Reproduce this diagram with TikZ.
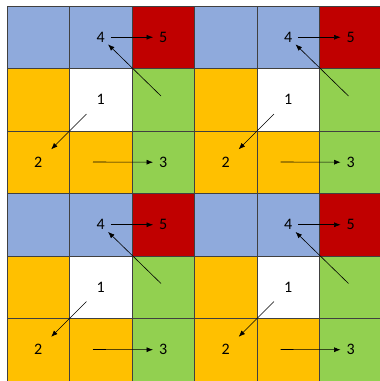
\documentclass[tikz,border=0pt]{standalone}
\usepackage{fontspec}
\setmainfont{Carlito}
\usepackage{tikz}
\usetikzlibrary{arrows.meta, positioning}
\definecolor{cellblue}{RGB}{143,170,220}
\definecolor{cellred}{RGB}{192,0,0}
\definecolor{cellgold}{RGB}{255,192,0}
\definecolor{cellgreen}{RGB}{146,208,80}
\definecolor{gridline}{RGB}{64,64,64}
\tikzset{
  cell/.style={draw=gridline, line width=0.6pt},
  num/.style={circle, minimum size=20pt, inner sep=0pt,
    font=\fontsize{16}{16}\selectfont},
  arrow/.style={-{Latex[length=6.5pt, width=5pt]}, line width=0.6pt, color=black}
}

\begin{document}
\begin{tikzpicture}[x=1pt, y=-1pt]
  \useasboundingbox (0,0) rectangle (380,381);
  \clip (0,0) rectangle (380,381);

  % Four copies of the 3x3 block
  \foreach \bx in {0,1} {
    \foreach \by in {0,1} {
      \begin{scope}[shift={(7+187.5*\bx, 6+187.5*\by)}]
        % Cell colours
        \fill[cellblue] (0,0) rectangle (125,62.5);
        \fill[cellred] (125,0) rectangle (187.5,62.5);
        \fill[cellgold] (0,62.5) rectangle (62.5,187.5);
        \fill[white] (62.5,62.5) rectangle (125,125);
        \fill[cellgreen] (125,62.5) rectangle (187.5,187.5);
        \fill[cellgold] (62.5,125) rectangle (125,187.5);

        % Grid lines
        \foreach \k in {0,...,3} {
          \draw[cell] (62.5*\k,0) -- (62.5*\k,187.5);
          \draw[cell] (0,62.5*\k) -- (187.5,62.5*\k);
        }

        % Numbers
        \node[num] (n4-\bx\by) at (93.75,31.25) {4};
        \node[num] (n5-\bx\by) at (156.25,31.25) {5};
        \node[num] (n1-\bx\by) at (93.75,93.75) {1};
        \node[num] (n2-\bx\by) at (31.25,156.25) {2};
        \node[num] (n3-\bx\by) at (156.25,156.25) {3};
        \coordinate (g-\bx\by) at (154,90);
        \coordinate (s-\bx\by) at (86,156);

        % Connections
        \draw[arrow] (n4-\bx\by) -- (n5-\bx\by);
        \draw[arrow] (g-\bx\by) -- (n4-\bx\by);
        \draw[arrow, shorten <=10pt, shorten >=8pt] (n1-\bx\by) -- (n2-\bx\by);
        \draw[arrow] (s-\bx\by) -- (n3-\bx\by);
      \end{scope}
    }
  }
\end{tikzpicture}
\end{document}
